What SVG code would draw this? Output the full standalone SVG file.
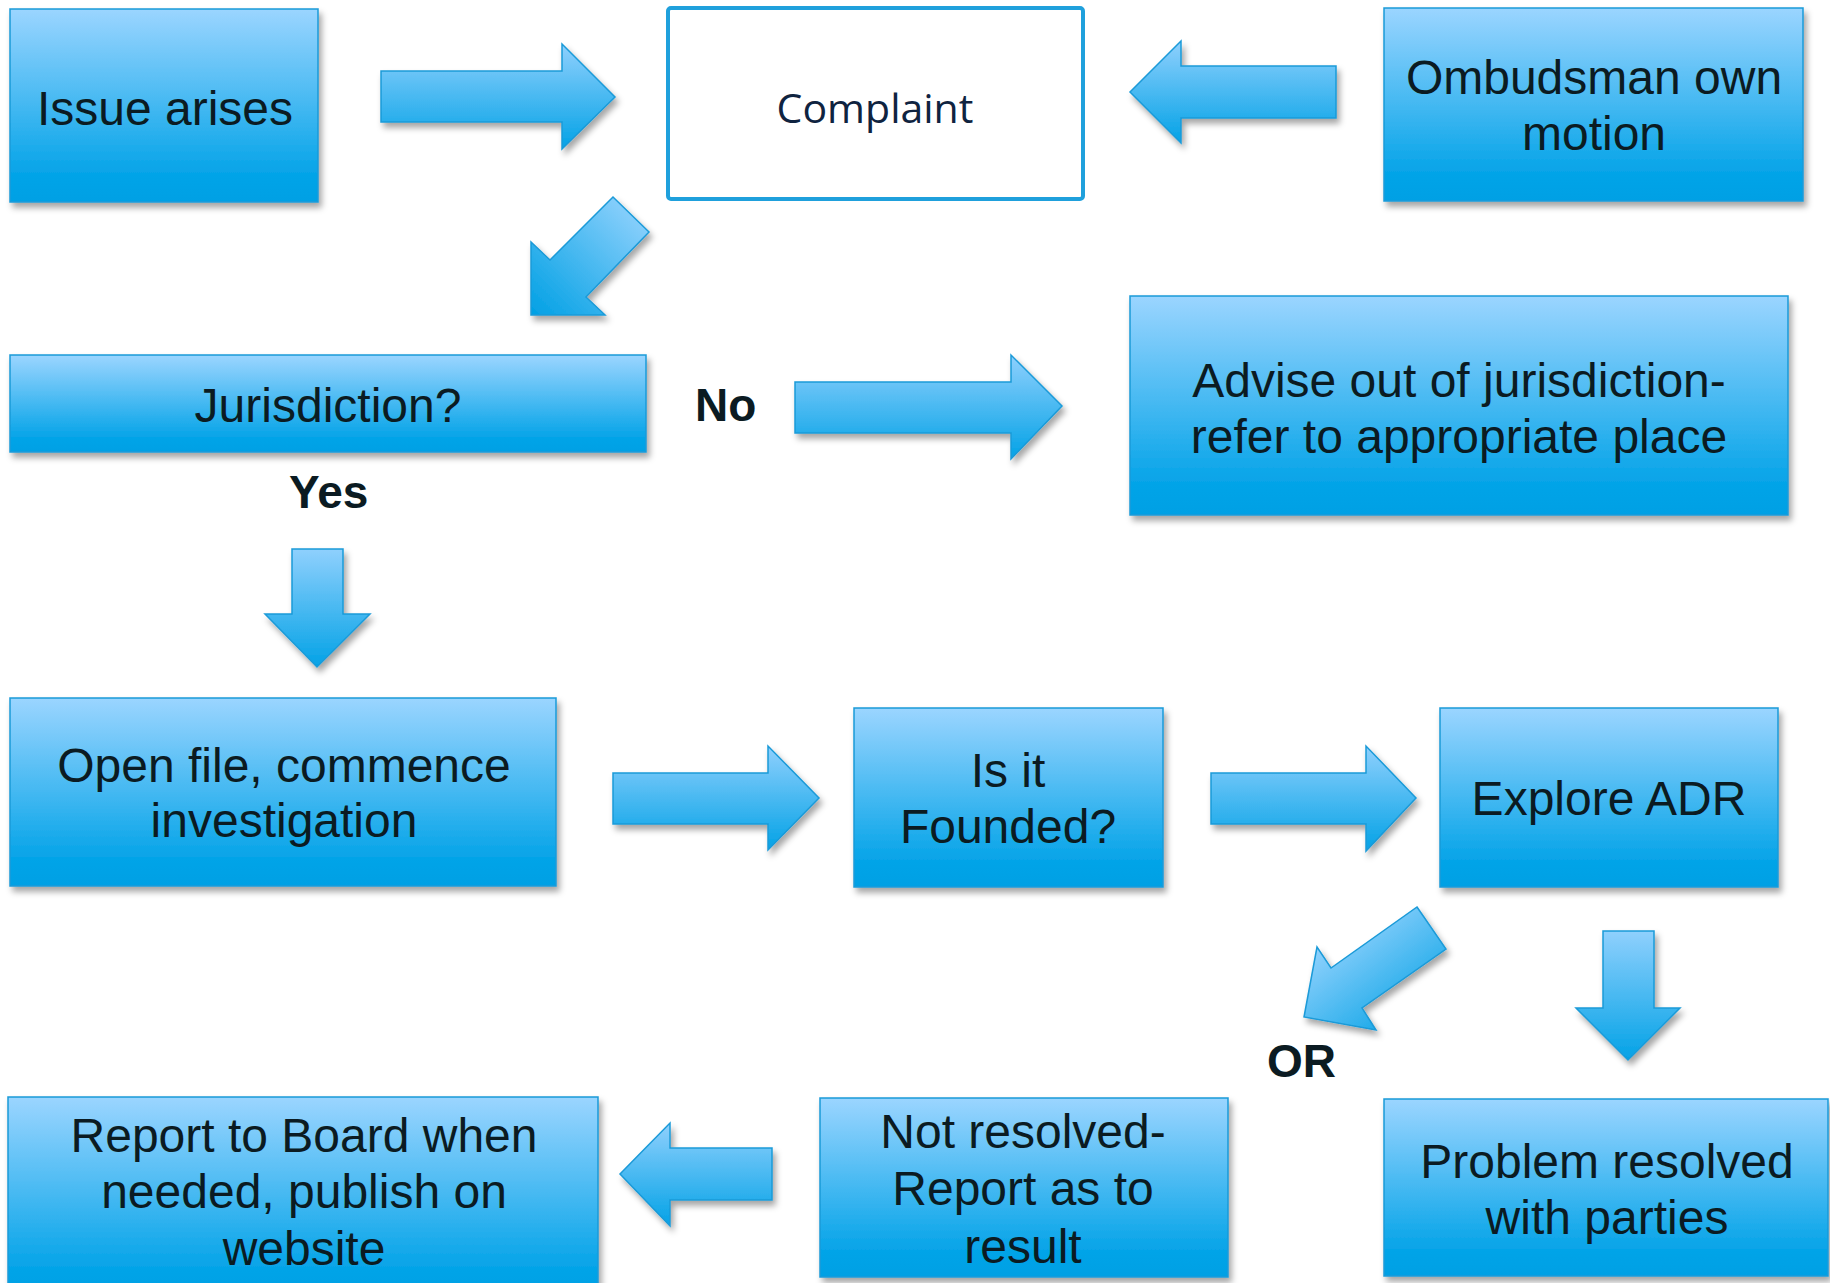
<svg xmlns="http://www.w3.org/2000/svg" width="1830" height="1283" viewBox="0 0 1830 1283">
<defs>
<linearGradient id="gBox" x1="0" y1="0" x2="0" y2="1">
<stop offset="0" stop-color="#9bd5ff"/>
<stop offset="0.85" stop-color="#06a4e8"/>
<stop offset="1" stop-color="#00a0e4"/>
</linearGradient>
<linearGradient id="gV" x1="0" y1="0" x2="0" y2="1">
<stop offset="0" stop-color="#8fd0fd"/>
<stop offset="1" stop-color="#03a2e6"/>
</linearGradient>
<linearGradient id="gD1" x1="1" y1="0" x2="0" y2="1">
<stop offset="0" stop-color="#9dd6ff"/>
<stop offset="1" stop-color="#00a0e4"/>
</linearGradient>
<linearGradient id="gD2" x1="0.15" y1="0.2" x2="0.85" y2="1">
<stop offset="0" stop-color="#98d4fe"/>
<stop offset="1" stop-color="#00a0e4"/>
</linearGradient>
<filter id="sh" x="-10%" y="-10%" width="120%" height="130%">
<feDropShadow dx="3" dy="5" stdDeviation="3" flood-color="#000" flood-opacity="0.35"/>
</filter>
</defs>
<style>
.box{fill:url(#gBox);stroke:#1a9ad8;stroke-width:1.5;filter:url(#sh)}
.arr{stroke:#1a9ad8;stroke-width:1.5;filter:url(#sh)}
.t{font-family:"Liberation Sans",Arial,sans-serif;font-size:48px;fill:#0b1b22;text-anchor:middle}
.b{font-family:"Liberation Sans",Arial,sans-serif;font-size:46px;font-weight:bold;fill:#0b1b22}
.c{font-family:"Open Sans","Noto Sans",sans-serif;font-size:41px;fill:#0f2340;text-anchor:middle}
</style>
<rect width="1830" height="1283" fill="#ffffff"/>

<g id="connectors">
<polygon class="arr" fill="url(#gV)" points="381,71 562,71 562,44 615,97 562,149 562,122 381,122"/>
<polygon class="arr" fill="url(#gV)" points="1336,66 1181,66 1181,41 1130,92 1181,143 1181,118 1336,118"/>
<polygon class="arr" fill="url(#gD1)" points="613,197 649,232 586,297 605,315 531,315 531,242 550,260"/>
<polygon class="arr" fill="url(#gV)" points="795,382 1011,382 1011,355 1062,406 1011,459 1011,433 795,433"/>
<polygon class="arr" fill="url(#gV)" points="292,549 343,549 343,614 370,614 317,667 265,614 292,614"/>
<polygon class="arr" fill="url(#gV)" points="613,773 768,773 768,746 819,798 768,850 768,824 613,824"/>
<polygon class="arr" fill="url(#gV)" points="1211,773 1366,773 1366,746 1416,798 1366,851 1366,824 1211,824"/>
<polygon class="arr" fill="url(#gD2)" points="1417,907 1446,949 1362,1008 1376,1030 1304,1017 1317,947 1331,968"/>
<polygon class="arr" fill="url(#gV)" points="1603,931 1654,931 1654,1008 1680,1008 1628,1060 1576,1008 1603,1008"/>
<polygon class="arr" fill="url(#gV)" points="772,1148 670,1148 670,1123 620,1174 670,1226 670,1200 772,1200"/>
<text class="b" x="695" y="421">No</text>
<text class="b" x="289" y="508">Yes</text>
<text class="b" x="1267" y="1077">OR</text>
</g>

<g id="issue">
<rect class="box" x="10" y="9" width="308" height="193"/>
<text class="t" x="165" y="125">Issue arises</text>
</g>

<g id="complaint">
<rect x="668" y="8" width="415" height="191" rx="3" fill="#ffffff" stroke="#1fa0dc" stroke-width="4"/>
<text class="c" x="875" y="123">Complaint</text>
</g>

<g id="ombudsman">
<rect class="box" x="1384" y="8" width="419" height="193"/>
<text class="t" x="1594" y="94">Ombudsman own</text>
<text class="t" x="1594" y="150">motion</text>
</g>

<g id="jurisdiction">
<rect class="box" x="10" y="355" width="636" height="97"/>
<text class="t" x="328" y="422">Jurisdiction?</text>
</g>

<g id="advise">
<rect class="box" x="1130" y="296" width="658" height="219"/>
<text class="t" x="1459" y="397">Advise out of jurisdiction-</text>
<text class="t" x="1459" y="453">refer to appropriate place</text>
</g>

<g id="openfile">
<rect class="box" x="10" y="698" width="546" height="188"/>
<text class="t" x="284" y="782">Open file, commence</text>
<text class="t" x="284" y="837">investigation</text>
</g>

<g id="founded">
<rect class="box" x="854" y="708" width="309" height="179"/>
<text class="t" x="1008" y="787">Is it</text>
<text class="t" x="1008" y="843">Founded?</text>
</g>

<g id="explore">
<rect class="box" x="1440" y="708" width="338" height="179"/>
<text class="t" x="1609" y="815">Explore ADR</text>
</g>

<g id="problem">
<rect class="box" x="1384" y="1099" width="444" height="177"/>
<text class="t" x="1607" y="1178">Problem resolved</text>
<text class="t" x="1607" y="1234">with parties</text>
</g>

<g id="notresolved">
<rect class="box" x="820" y="1098" width="408" height="179"/>
<text class="t" x="1023" y="1148">Not resolved-</text>
<text class="t" x="1023" y="1205">Report as to</text>
<text class="t" x="1023" y="1263">result</text>
</g>

<g id="report">
<rect class="box" x="8" y="1097" width="590" height="200"/>
<text class="t" x="304" y="1152">Report to Board when</text>
<text class="t" x="304" y="1208">needed, publish on</text>
<text class="t" x="304" y="1265">website</text>
</g>
</svg>
